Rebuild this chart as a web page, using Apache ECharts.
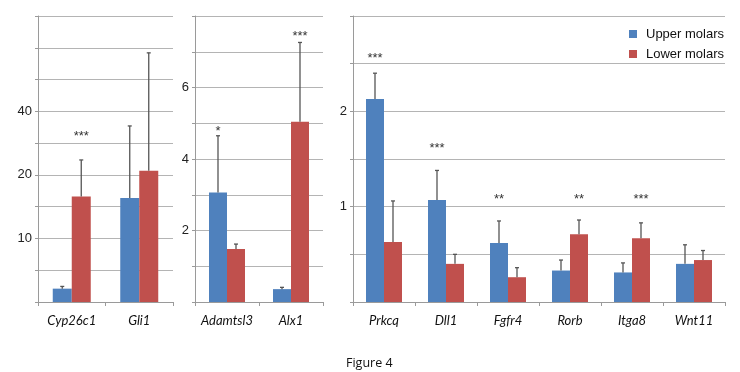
<!DOCTYPE html>
<html><head><meta charset="utf-8">
<script src="https://cdn.jsdelivr.net/npm/echarts@6/dist/echarts.min.js"></script>
<style>html,body{margin:0;padding:0;background:#fff}#c{width:740px;height:372px}</style>
</head><body><div id="c"></div>
<script>
// Panel 1 (axis in gridline positions, labelled 10 / 20 / 40 as in the figure)
const cats1 = ['Cyp26c1', 'Gli1'];
const upper1 = [4.2, 32.7];
const upperErr1 = [4.9, 55.4];
const lower1 = [33.2, 41.3];
const lowerErr1 = [44.7, 78.4];
const yTicks1 = ['', '', '10', '', '20', '', '40', '', '', ''];
const starsUp1 = ['', ''];
const stars1 = ['***', ''];          // text above lower bars
const starY1 = [52.1, 0];

// Panel 2
const cats2 = ['Adamtsl3', 'Alx1'];
const upper2 = [3.06, 0.36];
const upperErr2 = [4.65, 0.41];
const lower2 = [1.48, 5.04];
const lowerErr2 = [1.62, 7.26];
const yTicks2 = ['', '', '2', '', '4', '', '6', '', ''];
const starsUp2 = ['*', ''];
const stars2 = ['', '***'];
const starY2 = [4.76, 7.44];

// Panel 3
const cats3 = ['Prkcq', 'Dll1', 'Fgfr4', 'Rorb', 'Itga8', 'Wnt11'];
const upper3 = [2.13, 1.07, 0.62, 0.33, 0.31, 0.40];
const upperErr3 = [2.40, 1.38, 0.85, 0.44, 0.41, 0.60];
const lower3 = [0.63, 0.40, 0.26, 0.71, 0.67, 0.44];
const lowerErr3 = [1.06, 0.50, 0.36, 0.86, 0.83, 0.54];
const yTicks3 = ['', '', '1', '', '2', '', ''];
const starsUp3 = ['***', '***', '**', '', '', ''];
const stars3 = ['', '', '', '**', '***', ''];
const starY3 = [2.55, 1.61, 1.08, 1.08, 1.08, 0];

const BLUE = '#4F81BD', RED = '#C0504D';
const chart = echarts.init(document.getElementById('c'));

const panels = [
  {cats: cats1, up: upper1, upE: upperErr1, lo: lower1, loE: lowerErr1, ticks: yTicks1, sUp: starsUp1, sLo: stars1, sY: starY1,
   grid: {left: 38, top: 16, width: 135, height: 286}, max: 90, interval: 10, bw: 19},
  {cats: cats2, up: upper2, upE: upperErr2, lo: lower2, loE: lowerErr2, ticks: yTicks2, sUp: starsUp2, sLo: stars2, sY: starY2,
   grid: {left: 195, top: 16, width: 128, height: 286}, max: 8, interval: 1, bw: 18},
  {cats: cats3, up: upper3, upE: upperErr3, lo: lower3, loE: lowerErr3, ticks: yTicks3, sUp: starsUp3, sLo: stars3, sY: starY3,
   grid: {left: 353, top: 16, width: 372, height: 286}, max: 3, interval: 0.5, bw: 18}
];

const grids = [], xAxes = [], yAxes = [], series = [];
panels.forEach((p, k) => {
  grids.push(Object.assign({containLabel: false}, p.grid));
  xAxes.push({
    type: 'category', gridIndex: k, data: p.cats,
    axisLine: {lineStyle: {color: '#9a9a9a', width: 1}},
    axisTick: {show: true, length: 4, lineStyle: {color: '#9a9a9a'}},
    axisLabel: {fontFamily: 'Lato', fontStyle: 'italic', fontSize: 13, color: '#111', margin: 12,
      interval: 0, hideOverlap: false}
  });
  yAxes.push({
    type: 'value', gridIndex: k, min: 0, max: p.max, interval: p.interval,
    axisLine: {show: true, lineStyle: {color: '#9a9a9a', width: 1}},
    axisTick: {show: true, length: 3, lineStyle: {color: '#9a9a9a'}},
    splitLine: {show: true, lineStyle: {color: '#b4b4b4', width: 1}},
    axisLabel: {
      fontFamily: 'Liberation Sans', fontSize: 13, color: '#222', margin: 6,
      formatter: (v) => { const i = Math.round(v / p.interval); return p.ticks[i] || ''; }
    }
  });
  const bw = p.bw;
  series.push({name: 'Upper molars', type: 'bar', xAxisIndex: k, yAxisIndex: k, data: p.up,
    barWidth: bw, barGap: '0%', itemStyle: {color: BLUE}});
  series.push({name: 'Lower molars', type: 'bar', xAxisIndex: k, yAxisIndex: k, data: p.lo,
    barWidth: bw, barGap: '0%', itemStyle: {color: RED}});
  const errData = [];
  p.cats.forEach((c, i) => { errData.push([i, p.up[i], p.upE[i], -1]); errData.push([i, p.lo[i], p.loE[i], 1]); });
  series.push({
    type: 'custom', xAxisIndex: k, yAxisIndex: k, data: errData, z: 5, silent: true,
    encode: {x: 0, y: [1, 2]},
    renderItem: (params, api) => {
      const i = api.value(0), side = api.value(3);
      const a = api.coord([i, api.value(1)]);
      const b = api.coord([i, api.value(2)]);
      const x = a[0] + side * bw / 2;
      const st = {stroke: '#555', lineWidth: 1.3};
      return {type: 'group', children: [
        {type: 'line', shape: {x1: x, y1: a[1], x2: x, y2: b[1]}, style: st},
        {type: 'line', shape: {x1: x - 2, y1: b[1], x2: x + 2, y2: b[1]}, style: st}
      ]};
    }
  });
  const starData = p.cats.map((c, i) => [i, p.sY[i]]);
  series.push({
    type: 'custom', xAxisIndex: k, yAxisIndex: k, data: starData, z: 6, silent: true,
    encode: {x: 0, y: 1},
    renderItem: (params, api) => {
      const i = params.dataIndex;
      const txt = p.sUp[i] || p.sLo[i];
      if (!txt) return null;
      const side = p.sUp[i] ? -1 : 1;
      const a = api.coord([api.value(0), api.value(1)]);
      return {type: 'text', style: {
        text: txt, x: a[0] + side * bw / 2, y: a[1],
        align: 'center', verticalAlign: 'middle',
        font: '13px "Liberation Sans"', fill: '#333'
      }};
    }
  });
});

chart.setOption({
  animation: false,
  backgroundColor: '#fff',
  grid: grids, xAxis: xAxes, yAxis: yAxes, series: series,
  legend: {
    data: ['Upper molars', 'Lower molars'], orient: 'vertical', left: 624, top: 22,
    icon: 'rect', itemWidth: 8, itemHeight: 8, itemGap: 6,
    textStyle: {fontFamily: 'Liberation Sans', fontSize: 13, color: '#111', lineHeight: 14, padding: [0, 0, 0, 4]}
  },
  graphic: [{
    type: 'text', left: 346, top: 357,
    style: {text: 'Figure 4', font: '12.5px "Open Sans"', fill: '#111'}
  }]
});
</script></body></html>
